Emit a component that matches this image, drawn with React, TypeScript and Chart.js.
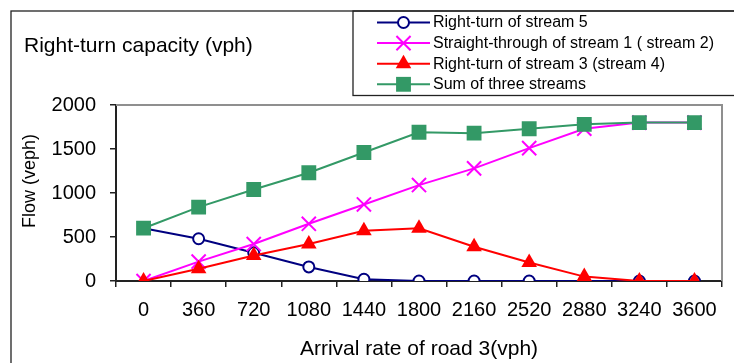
import React, { useEffect, useRef } from 'react';
import { Chart, registerables } from 'chart.js';
import { drawPoint } from 'chart.js/helpers';

Chart.register(...registerables);

// Arrival rate of road 3 (vph)
const arrivalRates = ['0', '360', '720', '1080', '1440', '1800', '2160', '2520', '2880', '3240', '3600'];

// Flow values (veph)
const rightTurnStream5 = [600, 480, 320, 160, 20, 0, 0, 0, 0, 0, 0];
const straightStream1 = [0, 220, 420, 650, 870, 1090, 1280, 1510, 1730, 1800, 1800];
const rightTurnStream3 = [0, 140, 290, 420, 570, 600, 390, 210, 50, 0, 0];
const sumOfThree = [600, 840, 1040, 1230, 1460, 1690, 1680, 1730, 1780, 1800, 1800];

const seriesNames = [
  'Right-turn of stream 5',
  'Straight-through of stream 1 ( stream 2)',
  'Right-turn of stream 3 (stream 4)',
  'Sum of three streams',
];

const yMin = 0;
const yMax = 2000;
const yStep = 500;

const chartTitle = 'Right-turn capacity (vph)';
const xTitle = 'Arrival rate of road 3(vph)';
const yTitle = 'Flow (veph)';

const FONT = '"Liberation Sans", Arial, sans-serif';

const decorations = {
  id: 'decorations',
  afterDraw(chart: any) {
    const { ctx, chartArea } = chart;
    ctx.save();

    // outer frame
    ctx.strokeStyle = '#222';
    ctx.lineWidth = 1.3;
    ctx.strokeRect(11, 11, 900, 600);

    // plot frame (top and right)
    ctx.strokeStyle = '#8f8f8f';
    ctx.lineWidth = 2;
    ctx.beginPath();
    ctx.moveTo(chartArea.left, chartArea.top);
    ctx.lineTo(chartArea.right, chartArea.top);
    ctx.lineTo(chartArea.right, chartArea.bottom);
    ctx.stroke();

    // chart title
    ctx.fillStyle = '#000';
    ctx.font = `21px ${FONT}`;
    ctx.textAlign = 'left';
    ctx.textBaseline = 'alphabetic';
    ctx.fillText(chartTitle, 24, 52);

    // x axis title
    ctx.textAlign = 'center';
    ctx.fillText(xTitle, (chartArea.left + chartArea.right) / 2, 355);

    // y axis title
    ctx.save();
    ctx.translate(30, 181);
    ctx.rotate(-Math.PI / 2);
    ctx.font = `18px ${FONT}`;
    ctx.textBaseline = 'middle';
    ctx.fillText(yTitle, 0, 0);
    ctx.restore();

    // legend box
    ctx.strokeStyle = '#222';
    ctx.lineWidth = 1.3;
    ctx.strokeRect(353, 11, 500, 84.5);

    // legend entries
    chart.data.datasets.forEach((ds: any, i: number) => {
      const y = 22.5 + i * 20.6;
      ctx.strokeStyle = ds.borderColor;
      ctx.lineWidth = 2;
      ctx.beginPath();
      ctx.moveTo(377, y);
      ctx.lineTo(430, y);
      ctx.stroke();
      ctx.fillStyle = ds.pointBackgroundColor;
      ctx.strokeStyle = ds.borderColor;
      ctx.lineWidth = ds.pointBorderWidth;
      drawPoint(ctx, {
        pointStyle: ds.pointStyle,
        radius: ds.pointRadius,
        borderWidth: ds.pointBorderWidth,
        rotation: 0,
      } as any, 403.5, y);
      ctx.fillStyle = '#000';
      ctx.font = `16px ${FONT}`;
      ctx.textAlign = 'left';
      ctx.textBaseline = 'middle';
      ctx.fillText(ds.label, 433, y + 0.5);
    });

    ctx.restore();
  },
};

export default function App() {
  const canvasRef = useRef<HTMLCanvasElement | null>(null);

  useEffect(() => {
    const canvas = canvasRef.current;
    if (!canvas) return;

    const chart = new Chart(canvas, {
      type: 'line',
      data: {
        labels: arrivalRates,
        datasets: [
          {
            label: seriesNames[0],
            data: rightTurnStream5,
            borderColor: '#000080',
            pointBackgroundColor: '#ffffff',
            backgroundColor: '#ffffff',
            pointStyle: 'circle',
            pointRadius: 5.5,
            pointBorderWidth: 2,
            borderWidth: 2,
            order: 4,
          },
          {
            label: seriesNames[1],
            data: straightStream1,
            borderColor: '#ff00ff',
            pointBackgroundColor: '#ff00ff',
            backgroundColor: '#ff00ff',
            pointStyle: 'crossRot',
            pointRadius: 10,
            pointBorderWidth: 2,
            borderWidth: 2,
            order: 3,
          },
          {
            label: seriesNames[2],
            data: rightTurnStream3,
            borderColor: '#ff0000',
            pointBackgroundColor: '#ff0000',
            backgroundColor: '#ff0000',
            pointStyle: 'triangle',
            pointRadius: 9,
            pointBorderWidth: 0,
            borderWidth: 2,
            order: 2,
          },
          {
            label: seriesNames[3],
            data: sumOfThree,
            borderColor: '#339966',
            pointBackgroundColor: '#339966',
            backgroundColor: '#339966',
            pointStyle: 'rect',
            pointRadius: 10.5,
            pointBorderWidth: 0,
            borderWidth: 2,
            order: 1,
          },
        ],
      },
      options: {
        animation: false,
        responsive: false,
        devicePixelRatio: 1,
        layout: { padding: { left: 0, top: 105, right: 3, bottom: 0 } },
        plugins: {
          legend: { display: false },
          title: { display: false },
          tooltip: { enabled: false },
        },
        scales: {
          x: {
            type: 'category',
            offset: true,
            grid: {
              display: true,
              drawOnChartArea: false,
              drawTicks: true,
              tickLength: 6,
              color: '#222',
              lineWidth: 1.5,
              offset: true,
            },
            border: { display: true, color: '#222', width: 2 },
            ticks: {
              color: '#000',
              font: { family: FONT, size: 20 },
              padding: 11,
              maxRotation: 0,
              autoSkip: false,
            },
            afterFit(scale: any) {
              scale.height = 82;
            },
          },
          y: {
            min: yMin,
            max: yMax,
            grid: {
              display: true,
              drawOnChartArea: false,
              drawTicks: true,
              tickLength: 6,
              color: '#222',
              lineWidth: 1.5,
            },
            border: { display: true, color: '#222', width: 2 },
            ticks: {
              stepSize: yStep,
              color: '#000',
              font: { family: FONT, size: 20 },
              padding: 14,
              callback: (value: any) => String(value),
            },
            afterFit(scale: any) {
              scale.width = 116;
            },
          },
        },
      },
      plugins: [decorations],
    });

    return () => chart.destroy();
  }, []);

  return (
    <div style={{ position: 'absolute', left: 0, top: 0, width: 734, height: 363, background: '#fff' }}>
      <canvas ref={canvasRef} width={734} height={363} style={{ display: 'block' }} />
    </div>
  );
}
